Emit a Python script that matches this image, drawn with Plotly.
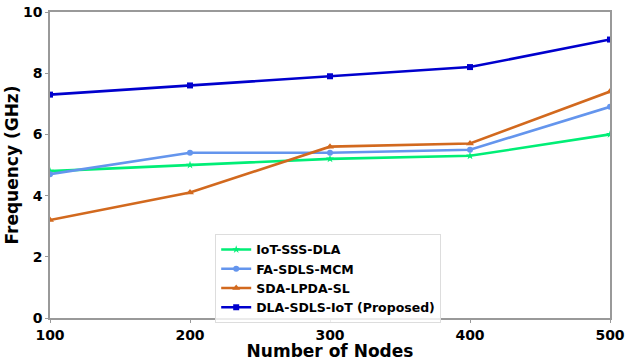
import plotly.graph_objects as go

nodes = [100, 200, 300, 400, 500]
iot_sss_dla = [4.8, 5.0, 5.2, 5.3, 6.0]
fa_sdls_mcm = [4.7, 5.4, 5.4, 5.5, 6.9]
sda_lpda_sl = [3.2, 4.1, 5.6, 5.7, 7.4]
dla_sdls_iot = [7.3, 7.6, 7.9, 8.2, 9.1]

series = [
    ("IoT-SSS-DLA", iot_sss_dla, "#00EE76", "star", 6),
    ("FA-SDLS-MCM", fa_sdls_mcm, "#6495ED", "circle", 6),
    ("SDA-LPDA-SL", sda_lpda_sl, "#D2691E", "triangle-up", 7),
    ("DLA-SDLS-IoT (Proposed)", dla_sdls_iot, "#0000CD", "square", 6),
]

fig = go.Figure()
for name, vals, color, sym, ms in series:
    fig.add_trace(go.Scatter(
        x=nodes, y=vals, mode="lines+markers", name=name,
        line=dict(color=color, width=2.6),
        marker=dict(symbol=sym, size=ms, color=color),
    ))

font_family = "DejaVu Sans"
fig.update_layout(
    width=631, height=361,
    margin=dict(l=50, r=21, t=12, b=43),
    plot_bgcolor="white", paper_bgcolor="white",
    font=dict(family=font_family, color="black"),
    showlegend=True,
    legend=dict(
        x=0.295, y=0.275, xanchor="left", yanchor="top",
        bgcolor="rgba(255,255,255,0.8)", bordercolor="#dddddd", borderwidth=1,
        font=dict(size=12.5, family=font_family, weight="bold"),
        itemwidth=30, tracegroupgap=0,
    ),
    xaxis=dict(
        range=[100, 500], tickvals=nodes, ticktext=[str(n) for n in nodes],
        showgrid=False, zeroline=False, automargin=False,
        showline=True, linecolor="#999999", linewidth=1.5, mirror=True,
        ticks="outside", ticklen=3, tickcolor="#999999",
        tickfont=dict(size=14, family=font_family, weight="bold"),
        title=dict(text="Number of Nodes", font=dict(size=17, family=font_family, weight="bold"), standoff=0),
    ),
    yaxis=dict(
        range=[0, 10], tickvals=[0, 2, 4, 6, 8, 10],
        showgrid=False, zeroline=False, automargin=False,
        showline=True, linecolor="#999999", linewidth=1.5, mirror=True,
        ticks="outside", ticklen=3, tickcolor="#999999",
        tickfont=dict(size=14, family=font_family, weight="bold"),
        title=dict(text="Frequency (GHz)", font=dict(size=17, family=font_family, weight="bold"), standoff=0),
    ),
)

fig.write_html(
    "out.html",
    config={"displayModeBar": False},
    post_script="document.body.style.margin='0';document.body.style.overflow='hidden';",
)
